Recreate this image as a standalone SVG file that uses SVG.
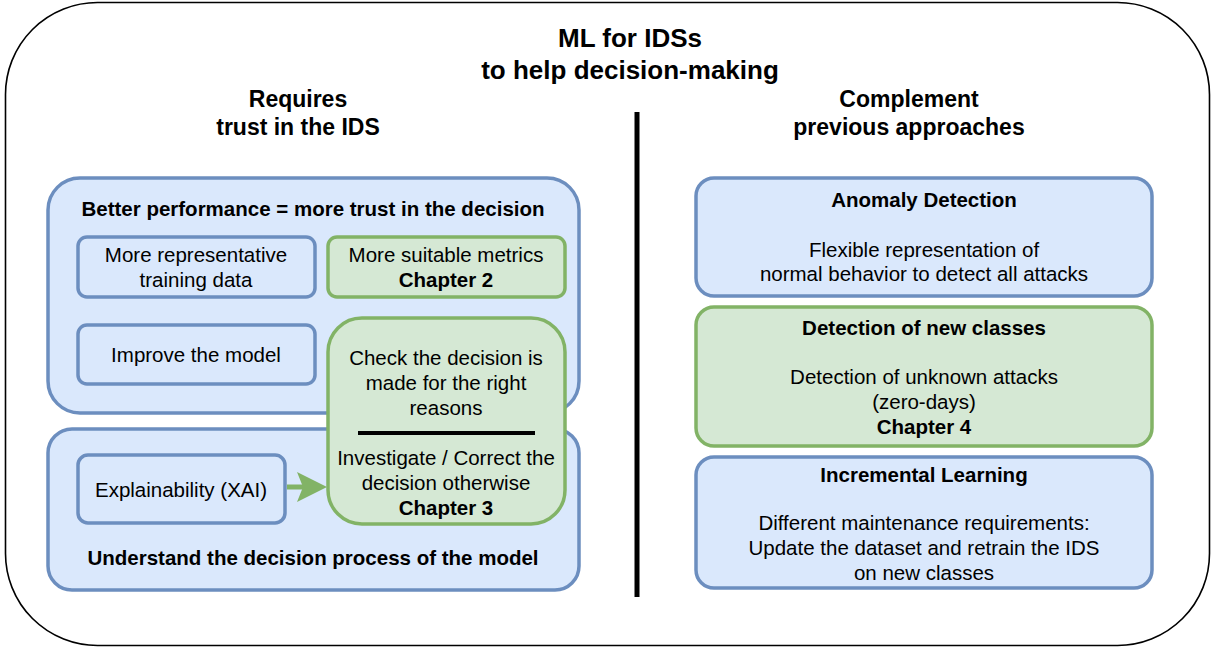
<svg xmlns="http://www.w3.org/2000/svg" width="1211" height="648" viewBox="0 0 1211 648">
<style>
text{font-family:"Liberation Sans",Arial,sans-serif;fill:#000;text-anchor:middle}
.t{font-size:20.5px}
.b{font-size:20.5px;font-weight:bold}
.h{font-size:23px;font-weight:bold}
.title{font-size:26px;font-weight:bold}
.blue{fill:#dae8fc;stroke:#6c8ebf;stroke-width:3.5}
.green{fill:#d5e8d4;stroke:#82b366;stroke-width:3.5}
</style>
<defs>
<marker id="ah" markerWidth="8" markerHeight="8" refX="1.2" refY="3" orient="auto" markerUnits="strokeWidth">
<path d="M0,0 L6,3 L0,6 L1.2,3 Z" fill="#82b366"/>
</marker>
</defs>
<rect id="frame" x="5.5" y="2.5" width="1204" height="643" rx="92" fill="#fff" stroke="#000" stroke-width="1.6"/>
<g id="title">
<text class="title" x="630" y="47">ML for IDSs</text>
<text class="title" x="630" y="79">to help decision-making</text>
</g>
<g id="hdr-left">
<text class="h" x="298" y="107">Requires</text>
<text class="h" x="298" y="135">trust in the IDS</text>
</g>
<g id="hdr-right">
<text class="h" x="909" y="107">Complement</text>
<text class="h" x="909" y="135">previous approaches</text>
</g>
<line id="divider" x1="637" y1="112" x2="637" y2="597" stroke="#000" stroke-width="5"/>
<g id="perf">
<rect class="blue" x="48" y="178" width="531" height="235" rx="32"/>
<text class="b" x="313" y="216">Better performance = more trust in the decision</text>
</g>
<g id="understand">
<rect class="blue" x="48" y="429" width="531" height="161" rx="24"/>
<text class="b" x="313" y="565">Understand the decision process of the model</text>
</g>
<g id="data">
<rect class="blue" x="78" y="237" width="237" height="60" rx="9"/>
<text class="t" x="196" y="262">More representative</text>
<text class="t" x="196" y="287">training data</text>
</g>
<g id="metrics">
<rect class="green" x="328" y="237" width="237" height="60" rx="9"/>
<text class="t" x="446" y="262">More suitable metrics</text>
<text class="b" x="446" y="287">Chapter 2</text>
</g>
<g id="model">
<rect class="blue" x="78" y="325" width="237" height="59" rx="9"/>
<text class="t" x="196" y="362">Improve the model</text>
</g>
<g id="xai">
<rect class="blue" x="78" y="455" width="207" height="68" rx="10"/>
<text class="t" x="181" y="497">Explainability (XAI)</text>
</g>
<g id="check">
<rect class="green" x="328" y="318" width="237" height="206" rx="34"/>
<text class="t" x="446" y="365">Check the decision is</text>
<text class="t" x="446" y="390">made for the right</text>
<text class="t" x="446" y="415">reasons</text>
<line x1="358" y1="433" x2="535" y2="433" stroke="#000" stroke-width="4"/>
<text class="t" x="446" y="465">Investigate / Correct the</text>
<text class="t" x="446" y="490">decision otherwise</text>
<text class="b" x="446" y="515">Chapter 3</text>
</g>
<g id="anomaly">
<rect class="blue" x="696" y="178" width="456" height="118" rx="18"/>
<text class="b" x="924" y="207">Anomaly Detection</text>
<text class="t" x="924" y="257">Flexible representation of</text>
<text class="t" x="924" y="281">normal behavior to detect all attacks</text>
</g>
<g id="newclasses">
<rect class="green" x="696" y="307" width="456" height="139" rx="18"/>
<text class="b" x="924" y="335">Detection of new classes</text>
<text class="t" x="924" y="384">Detection of unknown attacks</text>
<text class="t" x="924" y="409">(zero-days)</text>
<text class="b" x="924" y="434">Chapter 4</text>
</g>
<g id="incremental">
<rect class="blue" x="696" y="457" width="456" height="131" rx="18"/>
<text class="b" x="924" y="482">Incremental Learning</text>
<text class="t" x="924" y="530">Different maintenance requirements:</text>
<text class="t" x="924" y="555">Update the dataset and retrain the IDS</text>
<text class="t" x="924" y="580">on new classes</text>
</g>
<g id="connectors">
<line x1="287" y1="487" x2="303" y2="487" stroke="#82b366" stroke-width="5" marker-end="url(#ah)"/>
</g>
</svg>
